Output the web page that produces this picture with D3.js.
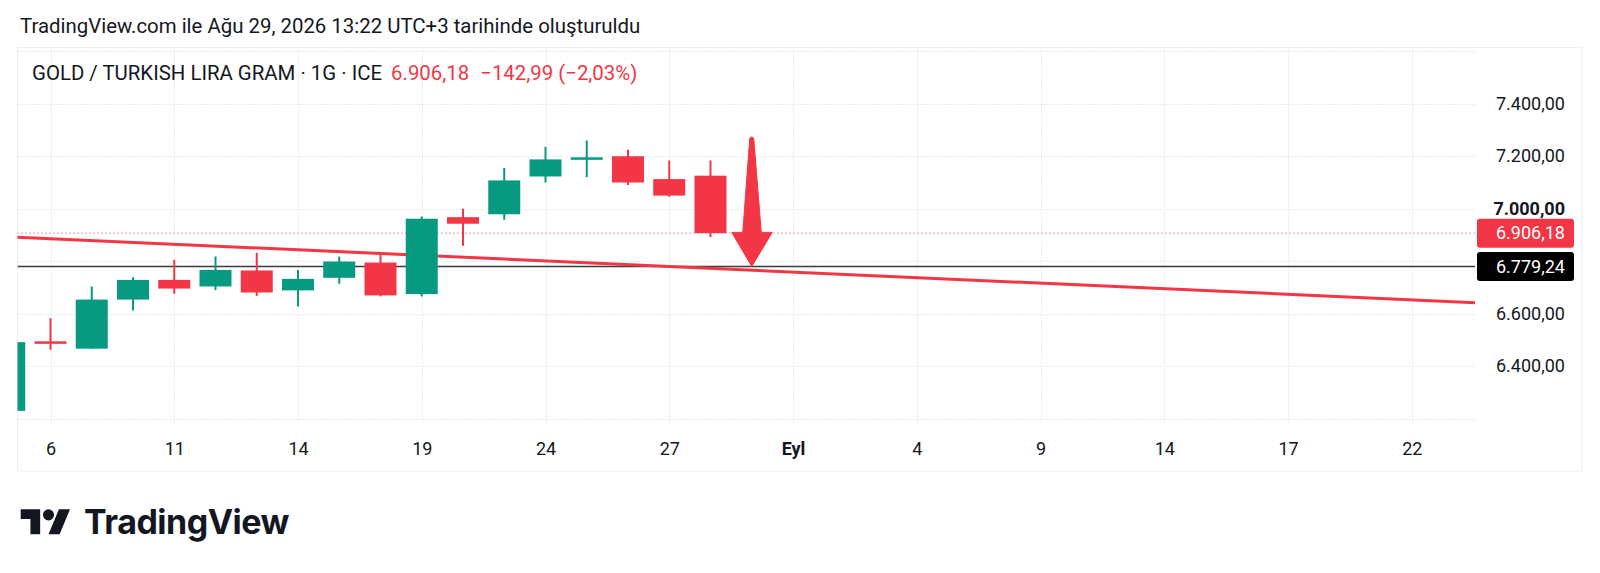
<!DOCTYPE html>
<html>
<head>
<meta charset="utf-8">
<script src="https://cdn.jsdelivr.net/npm/d3@7"></script>
<style>
  body { margin: 0; background: #fff; }
  svg { display: block; font-family: Roboto, "Noto Sans", sans-serif; }
</style>
</head>
<body>
<div id="chart"></div>
<script>
// Daily candles (1G), GOLD / TRY gram
var dates  = ["2026-08-05","2026-08-06","2026-08-07","2026-08-10","2026-08-11","2026-08-12",
              "2026-08-13","2026-08-14","2026-08-17","2026-08-18","2026-08-19","2026-08-20",
              "2026-08-21","2026-08-24","2026-08-25","2026-08-26","2026-08-27","2026-08-28"];
var opens  = [6229, 6494, 6466, 6653, 6728, 6703, 6764, 6688, 6736, 6794, 6674, 6967, 6978, 7122, 7188, 7199, 7112, 7125];
var highs  = [6500, 6582, 6703, 6738, 6805, 6817, 6831, 6766, 6817, 6828, 6970, 6999, 7154, 7234, 7259, 7224, 7183, 7183];
var lows   = [6220, 6462, 6466, 6611, 6675, 6690, 6667, 6627, 6713, 6665, 6665, 6858, 6957, 7099, 7119, 7090, 7045, 6891];
var closes = [6491, 6485, 6653, 6728, 6695, 6766, 6680, 6732, 6798, 6669, 6961, 6942, 7107, 7187, 7195, 7099, 7049.17, 6906.18];

// Time axis labels
var tickDates  = ["2026-08-06","2026-08-11","2026-08-14","2026-08-19","2026-08-24","2026-08-27",
                  "2026-09-01","2026-09-04","2026-09-09","2026-09-14","2026-09-17","2026-09-22"];
var tickLabels = ["6","11","14","19","24","27","Eyl","4","9","14","17","22"];

// Price axis (6.800,00 sits under the level tag, so it is not printed)
var priceTicks = [6400, 6600, 7000, 7200, 7400];
var gridPrices = [6200, 6400, 6600, 6800, 7000, 7200, 7400, 7600];

// Header values
var lastPrice = 6906.18;
var change = -142.99;
var changePct = -2.03;

// Drawings: horizontal level, trend line, arrow
var levelPrice   = 6779.24;
var trendDates   = ["2026-08-06", "2026-09-22"];
var trendValues  = [6885, 6652];
var arrowDate    = "2026-08-31";
var arrowTop     = 7267;
var arrowHeadAt  = 6909;

var W = 1600, H = 573;
var pLeft = 17.5, pRight = 1475, pTop = 47.5, pBottom = 423;
var green = "#089981", red = "#f23645", ink = "#131722";

var tr = d3.formatLocale({decimal: ",", thousands: ".", grouping: [3], currency: ["", ""], minus: "\u2212"});
var fmt = tr.format(",.2f");

// trading day index counted from the first candle
var parse = d3.utcParse("%Y-%m-%d");
var day0 = parse(dates[0]);
function dayIndex(s) {
  var d = parse(s);
  return d3.utcDay.range(day0, d).filter(function(t) {
    var w = t.getUTCDay(); return w != 0 && w != 6;
  }).length;
}

var x = d3.scaleLinear().domain([0, 34]).range([9.25, 1411.75]);
var y = d3.scaleLinear().domain([6200, 7600]).range([418.5, 51]);

var svg = d3.select("#chart").append("svg").attr("width", W).attr("height", H);

svg.append("defs").append("clipPath").attr("id", "plot")
  .append("rect").attr("x", pLeft).attr("y", pTop).attr("width", pRight - pLeft).attr("height", pBottom - pTop);

// Header
svg.append("text").attr("x", 20).attr("y", 33.3).attr("font-size", 20.4).attr("fill", ink)
  .text("TradingView.com ile Ağu 29, 2026 13:22 UTC+3 tarihinde oluşturuldu");

// Frame
svg.append("rect").attr("x", pLeft).attr("y", pTop).attr("width", 1582 - pLeft).attr("height", 471 - pTop)
  .attr("fill", "none").attr("stroke", "#eceef2").attr("stroke-width", 1);

// Grid
var grid = svg.append("g").attr("clip-path", "url(#plot)");
grid.selectAll("line.h").data(gridPrices).enter().append("line")
  .attr("x1", pLeft).attr("x2", pRight)
  .attr("y1", function(d) { return Math.round(y(d)) + 0.5; })
  .attr("y2", function(d) { return Math.round(y(d)) + 0.5; })
  .attr("stroke", "#d3d6dd").attr("stroke-dasharray", "1,2");
grid.selectAll("line.v").data(tickDates).enter().append("line")
  .attr("x1", function(d) { return Math.round(x(dayIndex(d))) + 0.5; })
  .attr("x2", function(d) { return Math.round(x(dayIndex(d))) + 0.5; })
  .attr("y1", pTop).attr("y2", pBottom)
  .attr("stroke", "#d3d6dd").attr("stroke-dasharray", "1,2");

var plot = svg.append("g").attr("clip-path", "url(#plot)");

// Last price dotted line
plot.append("line").attr("x1", pLeft).attr("x2", pRight)
  .attr("y1", y(lastPrice)).attr("y2", y(lastPrice))
  .attr("stroke", red).attr("stroke-width", 1).attr("stroke-dasharray", "1,3");

// Horizontal level
plot.append("line").attr("x1", pLeft).attr("x2", pRight)
  .attr("y1", y(levelPrice)).attr("y2", y(levelPrice))
  .attr("stroke", "#3b3b3b").attr("stroke-width", 1.5);

// Trend line, extended across the pane
var t0 = dayIndex(trendDates[0]), t1 = dayIndex(trendDates[1]);
var slope = (trendValues[1] - trendValues[0]) / (t1 - t0);
var iL = x.invert(pLeft - 5), iR = x.invert(pRight + 5);
plot.append("line")
  .attr("x1", x(iL)).attr("y1", y(trendValues[0] + slope * (iL - t0)))
  .attr("x2", x(iR)).attr("y2", y(trendValues[0] + slope * (iR - t0)))
  .attr("stroke", red).attr("stroke-width", 3);

// Candles
var candles = dates.map(function(d, i) {
  return {i: dayIndex(d), o: opens[i], h: highs[i], l: lows[i], c: closes[i]};
});
var bw = 32;
var cg = plot.selectAll("g.candle").data(candles).enter().append("g")
  .attr("fill", function(d) { return d.c >= d.o ? green : red; })
  .attr("stroke", function(d) { return d.c >= d.o ? green : red; });
cg.append("line")
  .attr("x1", function(d) { return x(d.i); }).attr("x2", function(d) { return x(d.i); })
  .attr("y1", function(d) { return y(d.h); }).attr("y2", function(d) { return y(d.l); })
  .attr("stroke-width", 2);
cg.append("rect")
  .attr("stroke", "none")
  .attr("x", function(d) { return x(d.i) - bw / 2; })
  .attr("width", bw)
  .attr("y", function(d) { return y(Math.max(d.o, d.c)); })
  .attr("height", function(d) { return Math.max(2.5, Math.abs(y(d.o) - y(d.c))); });

// Arrow drawing
var ax = x(dayIndex(arrowDate)), ay0 = y(arrowTop), ay1 = y(levelPrice), ayh = y(arrowHeadAt);
plot.append("path")
  .attr("d", "M" + (ax - 2) + "," + ay0 + " Q" + ax + "," + (ay0 - 3) + " " + (ax + 2) + "," + ay0 +
        " L" + (ax + 9.5) + "," + ayh + " L" + (ax + 20.5) + "," + ayh +
        " L" + ax + "," + ay1 + " L" + (ax - 20) + "," + ayh +
        " L" + (ax - 9) + "," + ayh + " Z")
  .attr("fill", red).attr("stroke", red).attr("stroke-width", 1).attr("stroke-linejoin", "round");

// Time axis
var xAxis = d3.axisBottom(x)
  .tickValues(tickDates.map(dayIndex))
  .tickFormat(function(d, i) { return tickLabels[i]; })
  .tickSize(0).tickPadding(0);
var gx = svg.append("g").attr("transform", "translate(0,442.6)").call(xAxis);
gx.select(".domain").remove();
gx.selectAll("text").attr("font-family", "Roboto, sans-serif").attr("font-size", 18).attr("fill", ink)
  .attr("font-weight", function(d, i) { return tickLabels[i] == "Eyl" ? 700 : 400; });

// Price axis
var yAxis = d3.axisRight(y).tickValues(priceTicks).tickFormat(fmt).tickSize(0).tickPadding(0);
var gy = svg.append("g").attr("transform", "translate(1565,0)").call(yAxis);
gy.select(".domain").remove();
gy.selectAll("text").attr("font-family", "Roboto, sans-serif").attr("font-size", 18).attr("fill", ink)
  .attr("text-anchor", "end").attr("x", 0)
  .attr("font-weight", function(d) { return d == 7000 ? 700 : 400; });

// Price labels
function priceTag(v, bg) {
  var g = svg.append("g");
  g.append("rect").attr("x", 1477).attr("y", y(v) - 14.5).attr("width", 97).attr("height", 29)
    .attr("rx", 3).attr("fill", bg);
  g.append("text").attr("x", 1565).attr("y", y(v)).attr("dy", "0.35em").attr("text-anchor", "end")
    .attr("font-size", 18).attr("fill", "#fff").text(fmt(v));
}
priceTag(lastPrice, red);
priceTag(levelPrice, "#000");

// Symbol legend
var leg = svg.append("text").attr("x", 32).attr("y", 80).attr("font-size", 20.4).attr("fill", ink);
leg.append("tspan").text("GOLD / TURKISH LIRA GRAM \u00b7 1G \u00b7 ICE");
leg.append("tspan").attr("dx", 9).attr("fill", red).text(fmt(lastPrice));
leg.append("tspan").attr("dx", 11).attr("fill", red)
  .text(fmt(change) + " (" + tr.format(",.2f")(changePct) + "%)");

// TradingView logo
var logo = svg.append("g").attr("fill", ink);
logo.append("g").attr("transform", "translate(20.7,503.7) scale(1.39)")
  .call(function(g) {
    g.append("path").attr("d", "M14 22H7V11H0V4h14v18zM28 22h-8l7.5-18h8L28 22z");
    g.append("circle").attr("cx", 20).attr("cy", 8).attr("r", 4);
  });
logo.append("text").attr("x", 84).attr("y", 534).attr("font-family", "Inter, sans-serif")
  .attr("font-weight", 700).attr("font-size", 34).attr("letter-spacing", -0.5).text("TradingView");
</script>
</body>
</html>
